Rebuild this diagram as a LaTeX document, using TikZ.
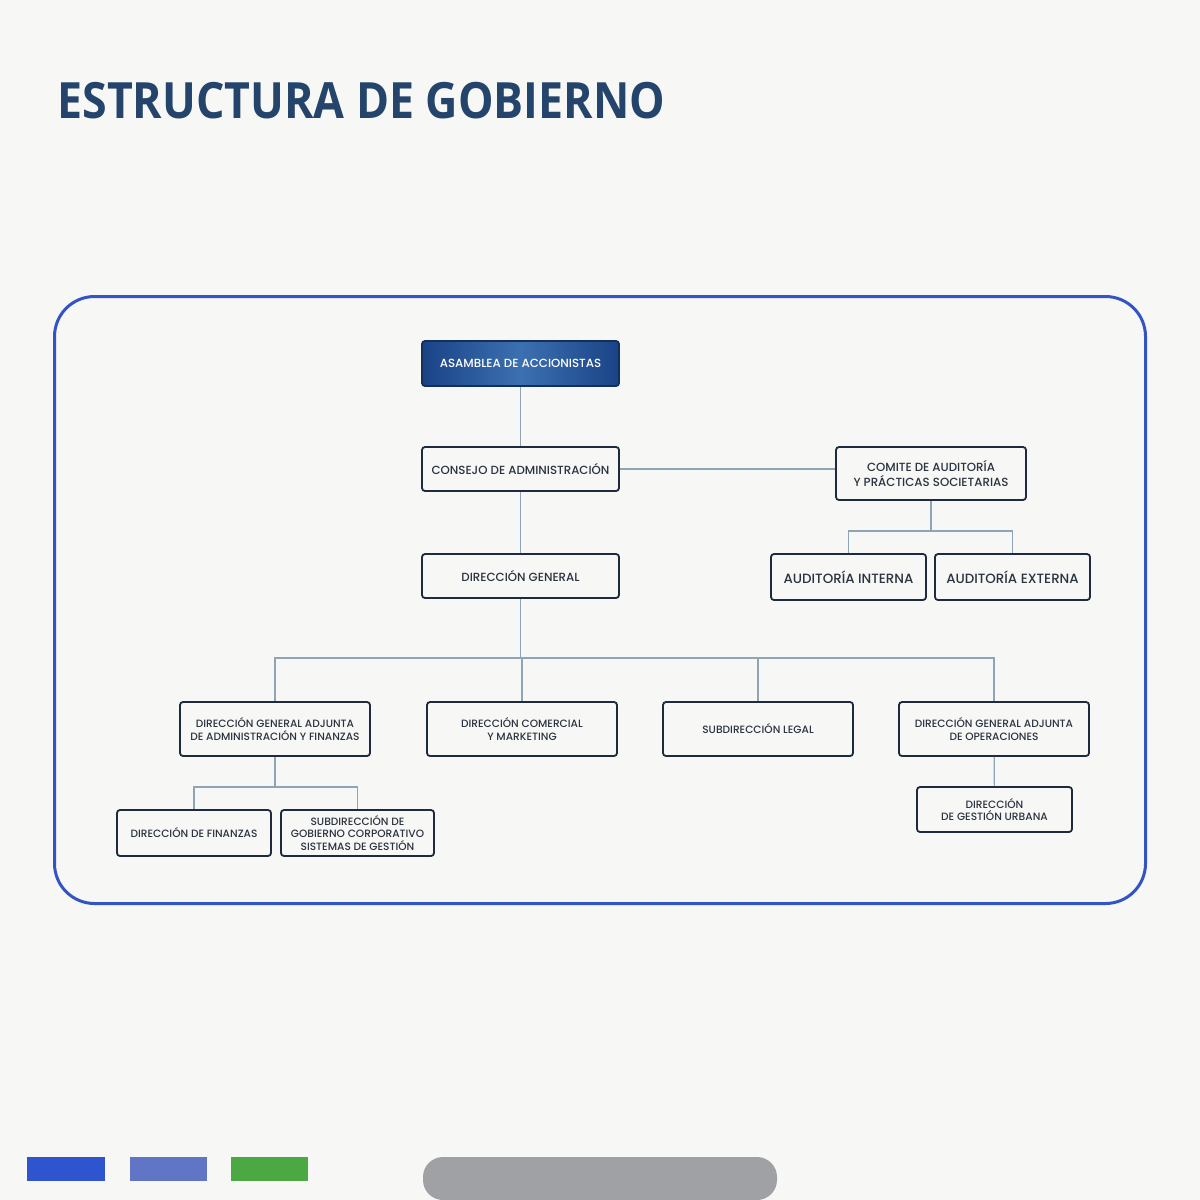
\documentclass[tikz,border=0pt]{standalone}
\usepackage{fontspec}
\setmainfont{Poppins}[UprightFont=* Medium,BoldFont=* SemiBold]
\newfontfamily\titlefont{Open Sans}
\usetikzlibrary{positioning}
\definecolor{paper}{HTML}{F7F7F5}
\definecolor{titleblue}{HTML}{24446B}
\definecolor{frameblue}{HTML}{3355C4}
\definecolor{boxline}{HTML}{1E2B3C}
\definecolor{linkline}{HTML}{8FA5B5}
\definecolor{boxtext}{HTML}{2A3340}
\definecolor{asamedge}{HTML}{1A4386}
\definecolor{asammid}{HTML}{3C70B0}
\definecolor{barA}{HTML}{2E55CF}
\definecolor{barB}{HTML}{6075C6}
\definecolor{barC}{HTML}{4CA843}
\definecolor{tabgray}{HTML}{A0A1A4}
\begin{document}
\begin{tikzpicture}[x=0.5pt,y=-0.5pt,
	organo/.style={draw=boxline,line width=0.9pt,rounded corners=1.5pt,fill=paper,
		align=center,text=boxtext,inner sep=0pt,font=\fontsize{5.9}{7.4}\selectfont,
		minimum width=#1},
	organo/.default=98.5pt,
	chico/.style={font=\fontsize{5.3}{6.6}\selectfont},
	enlace/.style={draw=linkline,line width=0.6pt}]
	% fondo y marco
	\fill[paper] (0,0) rectangle (1200,1200);
	\node[anchor=base west,text=titleblue,font=\titlefont\bfseries\fontsize{25}{30}\selectfont,xscale=0.894,inner sep=0pt] (titulo) at (57,118) {ESTRUCTURA DE GOBIERNO};
	\draw[frameblue,line width=1.5pt,rounded corners=20pt] (54.5,296.5) rectangle (1145.5,903.5);
	% organos
	\node[organo,minimum height=22.5pt,draw=asamedge!70!black,left color=asamedge,right color=asamedge,middle color=asammid,text=white] (asamblea) at (520.5,363.5) {ASAMBLEA DE ACCIONISTAS};
	\node[organo,minimum height=22pt] (consejo) at (520.5,469) {CONSEJO DE ADMINISTRACIÓN};
	\node[organo=95pt,minimum height=26.5pt] (comite) at (931,473.5) {COMITE DE AUDITORÍA\\Y PRÁCTICAS SOCIETARIAS};
	\node[organo,minimum height=22pt] (dg) at (520.5,576) {DIRECCIÓN GENERAL};
	\node[organo=77.5pt,minimum height=23pt,font=\fontsize{6.7}{8}\selectfont] (audint) at (848.5,577) {AUDITORÍA INTERNA};
	\node[organo=77.5pt,minimum height=23pt,font=\fontsize{6.7}{8}\selectfont] (audext) at (1012.5,577) {AUDITORÍA EXTERNA};
	\node[organo=95pt,minimum height=27pt,chico] (dgaaf) at (275,729) {DIRECCIÓN GENERAL ADJUNTA\\DE ADMINISTRACIÓN Y FINANZAS};
	\node[organo=95pt,minimum height=27pt,chico] (comercial) at (522,729) {DIRECCIÓN COMERCIAL\\Y MARKETING};
	\node[organo=95pt,minimum height=27pt,chico] (legal) at (758,729) {SUBDIRECCIÓN LEGAL};
	\node[organo=95pt,minimum height=27pt,chico] (dgaop) at (994,729) {DIRECCIÓN GENERAL ADJUNTA\\DE OPERACIONES};
	\node[organo=77pt,minimum height=23pt,chico] (finanzas) at (194,833) {DIRECCIÓN DE FINANZAS};
	\node[organo=76.5pt,minimum height=23pt,chico,font=\fontsize{5.3}{6.2}\selectfont] (subgob) at (357.5,833) {SUBDIRECCIÓN DE\\GOBIERNO CORPORATIVO\\SISTEMAS DE GESTIÓN};
	\node[organo=77.5pt,minimum height=22.5pt,font=\fontsize{5.3}{5.8}\selectfont] (urbana) at (994.5,809.5) {DIRECCIÓN\\DE GESTIÓN URBANA};
	% enlaces
	\coordinate (bus) at (520.5,658);
	\coordinate (busaud) at (931,531);
	\coordinate (busaf) at (275,787);
	\draw[enlace] (asamblea) -- (consejo);
	\draw[enlace] (consejo) -- (dg);
	\draw[enlace] (consejo.east) -- (consejo.east -| comite.west);
	\draw[enlace] (comite) -- (busaud);
	\draw[enlace] (audint.north) |- (busaud) -| (audext.north);
	\draw[enlace] (dg) -- (dg.south |- bus);
	\draw[enlace] (dgaaf.north) |- (bus) -| (dgaop.north);
	\draw[enlace] (comercial.north) -- (comercial.north |- bus);
	\draw[enlace] (legal.north) -- (legal.north |- bus);
	\draw[enlace] (dgaop) -- (urbana);
	\draw[enlace] (dgaaf) -- (busaf);
	\draw[enlace] (finanzas.north) |- (busaf) -| (subgob.north);
	% pie
	\fill[barA] (27,1157) rectangle (105,1181);
	\fill[barB] (130,1157) rectangle (207,1181);
	\fill[barC] (231,1157) rectangle (308,1181);
	\fill[tabgray,rounded corners=10pt] (423,1200) -- (423,1157) -- (777,1157) -- (777,1200) -- cycle;
\end{tikzpicture}
\end{document}
